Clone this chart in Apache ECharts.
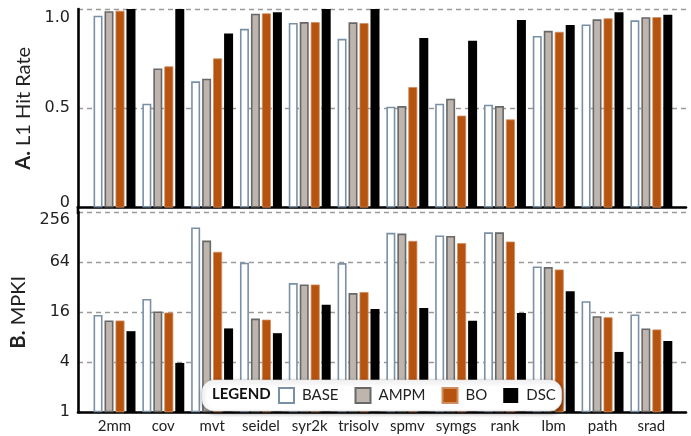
<!DOCTYPE html>
<html><head><meta charset="utf-8">
<script src="https://cdn.jsdelivr.net/npm/echarts@6/dist/echarts.min.js"></script>
<style>html,body{margin:0;padding:0;background:#fff}#c{width:691px;height:436px}</style>
</head><body><div id="c"></div>
<script>
const categories = ['2mm','cov','mvt','seidel','syr2k','trisolv','spmv','symgs','rank','lbm','path','srad'];
const seriesNames = ['BASE','AMPM','BO','DSC'];
const hitBASE = [0.966,0.523,0.636,0.900,0.930,0.850,0.508,0.523,0.518,0.864,0.922,0.943];
const hitAMPM = [0.989,0.701,0.649,0.976,0.934,0.933,0.511,0.548,0.511,0.890,0.948,0.959];
const hitBO   = [0.991,0.711,0.751,0.978,0.934,0.929,0.607,0.463,0.444,0.885,0.953,0.959];
const hitDSC  = [1.0,1.0,0.877,0.984,1.0,1.0,0.854,0.840,0.944,0.920,0.984,0.971];
const mpkiBASE = [14.8,23.1,167,62.8,35.8,62.3,144,134,146,56.6,21.7,15.0];
const mpkiAMPM = [12.7,16.3,116,13.4,34.4,27.1,141,132,146,55.7,14.3,10.2];
const mpkiBO   = [12.7,15.8,85,13.0,34.4,27.9,115,108,113,52.1,13.9,9.9];
const mpkiDSC  = [9.45,3.92,10.2,8.94,19.6,17.5,17.9,12.6,15.6,28.6,5.32,7.2];
const hitTicks = [0, 0.5, 1.0];
const mpkiTicks = [1, 4, 16, 64, 256];

const hitData = [hitBASE, hitAMPM, hitBO, hitDSC];
const mpkiData = [mpkiBASE, mpkiAMPM, mpkiBO, mpkiDSC];
const styles = [
  {color:'#ffffff', borderColor:'#7990a6', borderWidth:1.6},
  {color:'#bdb5ae', borderColor:'#686868', borderWidth:1.6},
  {color:'#b5530f', borderColor:'#d08d60', borderWidth:0.8},
  {color:'#000000', borderColor:'#000000', borderWidth:0}
];
const FONT = 'Lato';
const NUMFONT = 'DejaVu Sans';
const xMin = -0.748, xMax = 11.71;

function xAxisDef(grid, showLabels){
  return {
    gridIndex: grid, type:'value', min:xMin, max:xMax,
    axisLine:{show:true, onZero:false, lineStyle:{color:'#000', width:2.6}},
    axisTick:{show:false},
    splitLine:{show:false},
    axisLabel: showLabels ? {
      show:true, customValues: categories.map((c,i)=>i),
      formatter: v => categories[Math.round(v)],
      fontFamily: FONT, fontSize:15, color:'#222', margin:6
    } : {show:false}
  };
}
const splitStyle = {show:true, lineStyle:{color:'#9a9a9a', type:[5,4], width:1.3}};

const series = [];
seriesNames.forEach((n, k) => {
  series.push({
    name:n, type:'bar', xAxisIndex:0, yAxisIndex:0,
    barWidth:9, barGap:'22%',
    itemStyle: styles[k],
    data: hitData[k].map((v,i)=>[i,v])
  });
});
seriesNames.forEach((n, k) => {
  series.push({
    name:n, type:'bar', xAxisIndex:1, yAxisIndex:1,
    barWidth:9, barGap:'22%',
    itemStyle: styles[k],
    data: mpkiData[k].map((v,i)=>[i,v])
  });
});

const chart = echarts.init(document.getElementById('c'), null, {renderer:'canvas'});
chart.setOption({
  animation:false,
  backgroundColor:'#fff',
  grid:[
    {left:78, right:5, top:9, bottom:228.4},
    {left:78, right:5, top:212, bottom:23.7}
  ],
  xAxis:[xAxisDef(0,false), xAxisDef(1,true)],
  yAxis:[
    {gridIndex:0, type:'value', min:hitTicks[0], max:hitTicks[hitTicks.length-1], interval:0.5,
     axisLine:{show:true, onZero:false, lineStyle:{color:'#000', width:2.6}},
     axisTick:{show:false},
     splitLine:splitStyle,
     axisLabel:{
       fontFamily:NUMFONT, fontSize:16, color:'#222', margin:8,
       formatter: v => v === 0 ? '{lo|0}' : (v === 1 ? '{hi|1.0}' : v.toFixed(1)),
       rich:{lo:{fontFamily:NUMFONT, fontSize:16, color:'#222', padding:[0,0,10,0]},
             hi:{fontFamily:NUMFONT, fontSize:16, color:'#222', padding:[18,0,0,0]}}
     },
     name:'{b|A.} L1 Hit Rate', nameLocation:'middle', nameRotate:90, nameGap:40,
     nameTextStyle:{fontFamily:FONT, fontSize:20, color:'#222',
       rich:{b:{fontFamily:FONT, fontSize:20, fontWeight:'bold', color:'#222'}}}
    },
    {gridIndex:1, type:'log', logBase:4, min:mpkiTicks[0], max:mpkiTicks[mpkiTicks.length-1],
     axisLine:{show:true, onZero:false, lineStyle:{color:'#000', width:2.6}},
     axisTick:{show:false},
     splitLine:splitStyle,
     axisLabel:{
       fontFamily:NUMFONT, fontSize:16, color:'#222', margin:8,
       formatter: v => v === 256 ? '{hi|256}' : String(Math.round(v)),
       rich:{hi:{fontFamily:NUMFONT, fontSize:16, color:'#222', padding:[16,0,0,0]}}
     },
     name:'{b|B.} MPKI', nameLocation:'middle', nameRotate:90, nameGap:40,
     nameTextStyle:{fontFamily:FONT, fontSize:20, color:'#222',
       rich:{b:{fontFamily:FONT, fontSize:20, fontWeight:'bold', color:'#222'}}}
    }
  ],
  legend:{
    data: seriesNames, left:202, top:380, orient:'horizontal',
    itemWidth:15, itemHeight:15, itemGap:16, icon:'rect',
    padding:[7,6,7,76], backgroundColor:'#fff', borderRadius:12,
    borderColor:'#d8d8d8', borderWidth:0.6,
    shadowBlur:4, shadowColor:'rgba(0,0,0,0.45)', shadowOffsetX:1, shadowOffsetY:2,
    selectedMode:false,
    textStyle:{fontFamily:FONT, fontSize:15, color:'#222', padding:[0,0,0,3]}
  },
  graphic:[
    {type:'text', left:212, top:387, z:100,
     style:{text:'LEGEND', font:'bold 15px Lato', fill:'#111'}},
    {type:'line', z:10, shape:{x1:78, y1:206, x2:78, y2:214},
     style:{stroke:'#000', lineWidth:2.6}}
  ],
  series: series
});
</script>
</body></html>
